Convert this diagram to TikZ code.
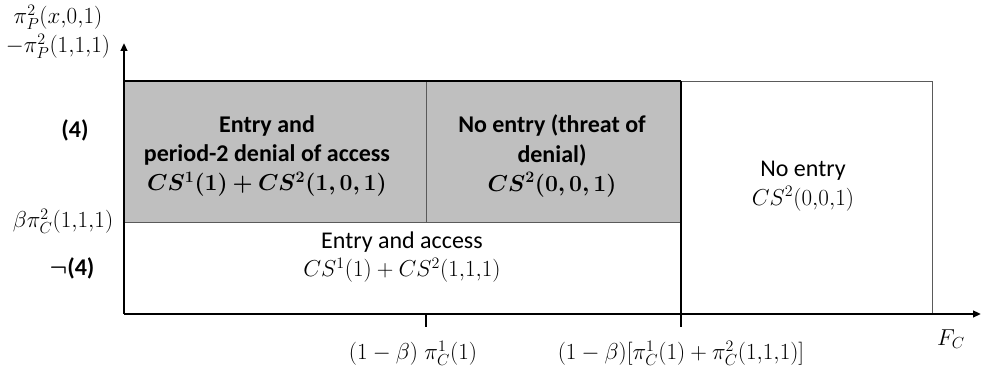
\documentclass[tikz,border=0pt]{standalone}
\usepackage{fontspec}
\usepackage{bm}
\setmainfont{Carlito}
\usetikzlibrary{arrows.meta}
\definecolor{boxgray}{RGB}{191,191,191}
\definecolor{edgegray}{RGB}{90,90,90}
\newcommand{\bmath}[1]{{\fontsize{16.5}{22}\selectfont$\bm{#1}$}}
\tikzset{
  axis/.style={line width=2pt,-{Triangle[length=6pt,width=5pt]}},
  thickline/.style={line width=2pt},
  thinline/.style={line width=0.7pt,draw=edgegray},
  tickline/.style={line width=0.8pt},
  celltext/.style={align=center,font=\fontsize{18}{21.5}\selectfont},
  boldcell/.style={align=center,font=\fontsize{18}{22}\selectfont\bfseries},
  axlabel/.style={font=\fontsize{16.5}{20}\selectfont},
  boldlabel/.style={font=\fontsize{18}{20}\selectfont\bfseries}
}
\begin{document}
\begin{tikzpicture}[x=0.75pt,y=-0.75pt]
\useasboundingbox (0,0) rectangle (996,373);
% coordinates
\coordinate (O) at (124,314);
\coordinate (ytip) at (124,43);
\coordinate (xtip) at (981,314);
\coordinate (gtl) at (124,81);
\coordinate (gbr) at (681,222);
\coordinate (gmidtop) at (426,81);
\coordinate (gmidbot) at (426,222);
\coordinate (gleftmid) at (124,222);
\coordinate (wtr) at (932,81);
\coordinate (wbr) at (932,314);
\coordinate (wbl) at (681,314);
\coordinate (wtl) at (681,81);
\coordinate (tickA) at (426,314);
\coordinate (tickAe) at (426,327);
\coordinate (tickBe) at (681,327);
% gray region
\fill[boxgray] (gtl) rectangle (gbr);
\draw[thinline] (gmidtop) -- (gmidbot);
\draw[thinline] (gleftmid) -- (gbr);
\draw[thinline] (wtl) -- (wtr) -- (wbr);
\draw[thickline] (gtl) -- (wtl);
\draw[thickline] (wtl) -- (wbl);
% ticks
\draw[tickline] (tickA) -- (tickAe);
\draw[tickline] (wbl) -- (tickBe);
% axes
\draw[axis] (O) -- (ytip);
\draw[axis] (O) -- (xtip);
% cell texts
\node[boldcell] (c1) at (267,156) {Entry and\\period-2 denial of access\\\bmath{CS^1(1)+CS^2(1,0,1)}};
\node[boldcell] (c2) at (552,156) {No entry (threat of\\denial)\\\bmath{CS^2(0,0,1)}};
\node[celltext] (c3) at (402,257) {Entry and access\\$CS^1(1)+CS^2(1{,}1{,}1)$};
\node[celltext] (c4) at (803,186) {No entry\\$CS^2(0{,}0{,}1)$};
% axis labels
\node[axlabel] (yl1) at (58,17) {$\pi_P^2(x{,}0{,}1)$};
\node[axlabel] (yl2) at (58,46) {$-\pi_P^2(1{,}1{,}1)$};
\node[boldlabel] (l4) at (75,130) {(4)};
\node[axlabel] (lb) at (63,221) {$\beta\pi_C^2(1{,}1{,}1)$};
\node[boldlabel] (ln4) at (72,268) {$\bm{\neg}$(4)};
\node[axlabel] (xa) at (413,353) {$(1-\beta)\;\pi_C^1(1)$};
\node[axlabel] (xb) at (681,353) {$(1-\beta)[\pi_C^1(1)+\pi_C^2(1{,}1{,}1)]$};
\node[axlabel] (fc) at (951,339) {$F_C$};
\end{tikzpicture}
\end{document}
